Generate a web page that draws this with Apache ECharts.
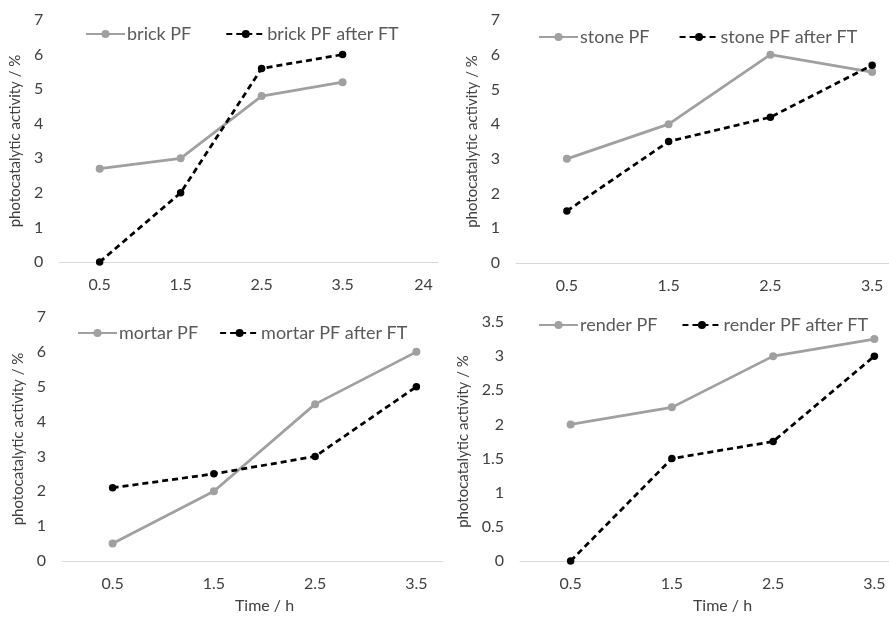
<!DOCTYPE html>
<html>
<head>
<meta charset="utf-8">
<script src="https://cdn.jsdelivr.net/npm/echarts@6/dist/echarts.min.js"></script>
<style>
  html, body { margin: 0; padding: 0; background: #fff; }
  body { width: 889px; height: 619px; position: relative; overflow: hidden; }
  .panel { position: absolute; overflow: hidden; }
  .inner { width: 500px; }
</style>
</head>
<body>
<div class="panel" id="p1" style="left:0;top:0;width:438px;height:300px"><div class="inner" id="c1" style="height:300px"></div></div>
<div class="panel" id="p2" style="left:445px;top:0;width:444px;height:300px"><div class="inner" id="c2" style="height:300px"></div></div>
<div class="panel" id="p3" style="left:0;top:300px;width:443px;height:319px"><div class="inner" id="c3" style="height:319px"></div></div>
<div class="panel" id="p4" style="left:445px;top:300px;width:444px;height:319px"><div class="inner" id="c4" style="height:319px"></div></div>
<script>
// data
var brickTimes = ['0.5', '1.5', '2.5', '3.5', '24'];
var times = ['0.5', '1.5', '2.5', '3.5'];

var brickPF = [2.7, 3.0, 4.8, 5.2];
var brickPFAfterFT = [0, 2.0, 5.6, 6.0];

var stonePF = [3.0, 4.0, 6.0, 5.5];
var stonePFAfterFT = [1.5, 3.5, 4.2, 5.7];

var mortarPF = [0.5, 2.0, 4.5, 6.0];
var mortarPFAfterFT = [2.1, 2.5, 3.0, 5.0];

var renderPF = [2.0, 2.25, 3.0, 3.25];
var renderPFAfterFT = [0, 1.5, 1.75, 3.0];

var FONT = 'Lato, "Open Sans", sans-serif';

function makeChart(id, cfg) {
  var chart = echarts.init(document.getElementById(id));
  chart.setOption({
    animation: false,
    textStyle: { fontFamily: FONT },
    grid: cfg.grid,
    legend: {
      left: cfg.legendLeft,
      top: cfg.legendTop,
      padding: 0,
      itemWidth: 39,
      itemHeight: 10,
      itemGap: cfg.legendGap,
      textStyle: { fontFamily: FONT, fontSize: 18, color: '#595959', padding: [0, 0, 0, -3] },
      data: [cfg.names[0], cfg.names[1]]
    },
    xAxis: {
      type: 'category',
      data: cfg.cats,
      boundaryGap: true,
      name: cfg.xName || '',
      nameLocation: 'middle',
      nameGap: 37,
      nameTextStyle: { fontFamily: FONT, fontSize: 16, color: '#404040' },
      axisLine: { lineStyle: { color: '#d9d9d9', width: 1 } },
      axisTick: { show: false },
      axisLabel: { fontFamily: FONT, fontSize: 16, color: '#404040', margin: 15 }
    },
    yAxis: {
      type: 'value',
      min: 0,
      max: cfg.yMax,
      interval: cfg.yInterval,
      name: 'photocatalytic activity / %',
      nameLocation: 'middle',
      nameGap: cfg.yNameGap,
      nameTextStyle: { fontFamily: FONT, fontSize: 15, color: '#404040' },
      axisLine: { show: false },
      axisTick: { show: false },
      splitLine: { show: false },
      axisLabel: { fontFamily: FONT, fontSize: 16, color: '#404040', margin: 16 }
    },
    series: [
      {
        name: cfg.names[0],
        type: 'line',
        data: cfg.pf,
        symbol: 'circle',
        symbolSize: 8,
        itemStyle: { color: '#a0a0a0' },
        lineStyle: { color: '#a0a0a0', width: 2.75 }
      },
      {
        name: cfg.names[1],
        type: 'line',
        data: cfg.ft,
        symbol: 'circle',
        symbolSize: 7.5,
        itemStyle: { color: '#000' },
        lineStyle: { color: '#000', width: 2.75, type: [6, 4] }
      }
    ]
  });
  return chart;
}

makeChart('c1', {
  grid: { left: 58, top: 20, width: 406, height: 242 },
  cats: brickTimes, yMax: 7, yInterval: 1, yNameGap: 29,
  names: ['brick PF', 'brick PF after FT'],
  pf: brickPF, ft: brickPFAfterFT,
  legendLeft: 85, legendTop: 25, legendGap: 34
});

makeChart('c2', {
  grid: { left: 71, top: 20, width: 407, height: 243 },
  cats: times, yMax: 7, yInterval: 1, yNameGap: 33,
  names: ['stone PF', 'stone PF after FT'],
  pf: stonePF, ft: stonePFAfterFT,
  legendLeft: 93, legendTop: 28, legendGap: 29
});

makeChart('c3', {
  grid: { left: 62, top: 17, width: 405, height: 244 },
  cats: times, yMax: 7, yInterval: 1, yNameGap: 32, xName: 'Time / h',
  names: ['mortar PF', 'mortar PF after FT'],
  pf: mortarPF, ft: mortarPFAfterFT,
  legendLeft: 77, legendTop: 24, legendGap: 21
});

makeChart('c4', {
  grid: { left: 75, top: 22, width: 405, height: 240 },
  cats: times, yMax: 3.5, yInterval: 0.5, yNameGap: 45, xName: 'Time / h',
  names: ['render PF', 'render PF after FT'],
  pf: renderPF, ft: renderPFAfterFT,
  legendLeft: 93, legendTop: 16, legendGap: 24
});
</script>
</body>
</html>
